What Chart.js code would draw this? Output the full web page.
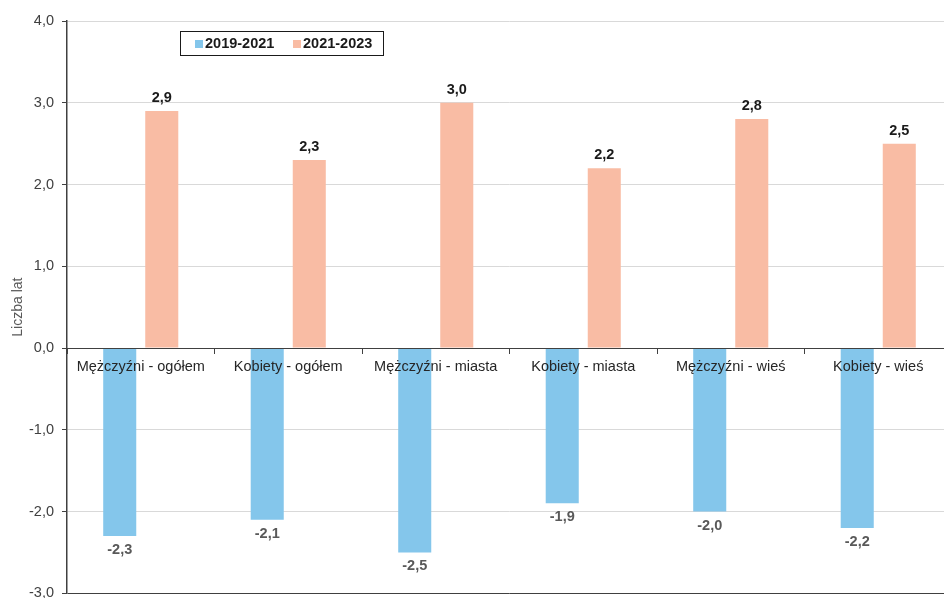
<!DOCTYPE html>
<html lang="pl">
<head>
<meta charset="utf-8">
<title>Liczba lat</title>
<script src="https://cdn.jsdelivr.net/npm/chart.js@4/dist/chart.umd.min.js"></script>
<style>
  html, body { margin: 0; padding: 0; background: #ffffff; overflow: hidden; }
  #wrap { position: relative; width: 952px; height: 610px; }
</style>
</head>
<body>
<div id="wrap"><canvas id="chart" width="952" height="610"></canvas></div>
<script>
// Categories and series
const categories = ['Mężczyźni - ogółem', 'Kobiety - ogółem', 'Mężczyźni - miasta', 'Kobiety - miasta', 'Mężczyźni - wieś', 'Kobiety - wieś'];
const seriesLabels = ['2019-2021', '2021-2023'];
const change2019to2021 = [-2.3, -2.1, -2.5, -1.9, -2.0, -2.2];
const change2021to2023 = [2.9, 2.3, 3.0, 2.2, 2.8, 2.5];
const yMin = -3;
const yMax = 4;
const yStep = 1;
const yTitle = 'Liczba lat';

const FONT = '"Liberation Sans", Arial, sans-serif';
const COLORS = ['#84C6EB', '#F9BCA4'];
const fmt = v => v.toFixed(1).replace('.', ',');

// Value labels above positive bars and below negative bars
const valueLabels = {
  id: 'valueLabels',
  afterDatasetsDraw(chart) {
    const ctx = chart.ctx;
    ctx.save();
    ctx.font = 'bold 14.5px ' + FONT;
    ctx.textAlign = 'center';
    ctx.textBaseline = 'middle';
    chart.data.datasets.forEach((ds, i) => {
      const meta = chart.getDatasetMeta(i);
      meta.data.forEach((bar, j) => {
        const v = ds.data[j];
        if (v >= 0) {
          ctx.fillStyle = '#1a1a1a';
          ctx.fillText(fmt(v), bar.x, bar.y - 13);
        } else {
          ctx.fillStyle = '#595959';
          ctx.fillText(fmt(v), bar.x, bar.y + 14);
        }
      });
    });
    ctx.restore();
  }
};

// Boxed legend inside the plot area
const boxLegend = {
  id: 'boxLegend',
  afterDraw(chart) {
    const ctx = chart.ctx;
    const x0 = 180, y0 = 31, w = 203, h = 24;
    ctx.save();
    ctx.fillStyle = '#ffffff';
    ctx.fillRect(x0, y0, w, h);
    ctx.strokeStyle = '#1a1a1a';
    ctx.lineWidth = 1;
    ctx.strokeRect(x0 + 0.5, y0 + 0.5, w, h);
    ctx.font = 'bold 14.5px ' + FONT;
    ctx.textBaseline = 'middle';
    ctx.textAlign = 'left';
    const starts = [195, 293];
    chart.data.datasets.forEach((ds, i) => {
      const sx = starts[i];
      ctx.fillStyle = ds.backgroundColor;
      ctx.fillRect(sx, y0 + 9, 8, 8);
      ctx.fillStyle = '#1a1a1a';
      ctx.fillText(ds.label, sx + 10, y0 + 13);
    });
    ctx.restore();
  }
};

new Chart(document.getElementById('chart'), {
  type: 'bar',
  data: {
    labels: categories,
    datasets: [
      { label: seriesLabels[0], data: change2019to2021, backgroundColor: COLORS[0] },
      { label: seriesLabels[1], data: change2021to2023, backgroundColor: COLORS[1] }
    ]
  },
  options: {
    responsive: false,
    animation: false,
    devicePixelRatio: 1,
    layout: { padding: { top: 21, bottom: 15, left: 0, right: 0 } },
    datasets: {
      bar: { categoryPercentage: 0.57, barPercentage: 0.786, borderWidth: 0 }
    },
    plugins: {
      legend: { display: false },
      tooltip: { enabled: false }
    },
    scales: {
      x: {
        type: 'category',
        position: { y: 0 },
        afterFit(scale) { scale.height = 0; },
        grid: {
          display: true,
          drawOnChartArea: false,
          drawTicks: true,
          tickLength: 5,
          tickColor: '#404040',
          offset: true,
          z: 1
        },
        border: { display: true, color: '#404040', width: 1, z: 1 },
        ticks: {
          color: '#262626',
          font: { family: FONT, size: 14.5 },
          padding: 5,
          maxRotation: 0,
          autoSkip: false,
          z: 1
        }
      },
      y: {
        min: yMin,
        max: yMax,
        afterFit(scale) { scale.width = 67; },
        ticks: {
          stepSize: yStep,
          color: '#404040',
          font: { family: FONT, size: 14.5 },
          padding: 8,
          callback: v => fmt(v)
        },
        grid: {
          color: c => (c.tick && (c.tick.value === yMin || c.tick.value === 0)) ? '#404040' : '#d9d9d9',
          lineWidth: 1,
          tickLength: 5,
          tickColor: '#404040'
        },
        border: { display: true, color: '#404040', width: 1.5 },
        title: {
          display: true,
          text: yTitle,
          color: '#595959',
          font: { family: FONT, size: 14 },
          padding: { top: 10, bottom: 0 }
        }
      }
    }
  },
  plugins: [valueLabels, boxLegend]
});
</script>
</body>
</html>
